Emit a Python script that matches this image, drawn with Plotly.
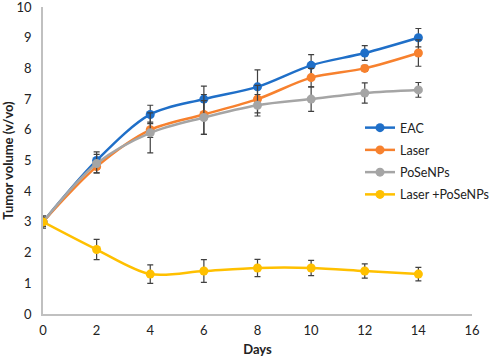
import plotly.graph_objects as go

days = [0, 2, 4, 6, 8, 10, 12, 14]
series_names = ["EAC", "Laser", "PoSeNPs", "Laser +PoSeNPs"]
eac = [3.0, 5.0, 6.5, 7.0, 7.4, 8.1, 8.5, 9.0]
eac_err = [0.15, 0.28, 0.3, 0.42, 0.55, 0.35, 0.24, 0.3]
laser = [3.0, 4.8, 6.0, 6.5, 7.0, 7.7, 8.0, 8.5]
laser_err = [0.15, 0.2, 0.25, 0.65, 0.45, 0.3, 0.1, 0.43]
posenps = [3.0, 4.9, 5.9, 6.4, 6.8, 7.0, 7.2, 7.3]
posenps_err = [0.15, 0.3, 0.65, 0.55, 0.35, 0.4, 0.33, 0.24]
combo = [3.0, 2.1, 1.3, 1.4, 1.5, 1.5, 1.4, 1.3]
combo_err = [0.2, 0.33, 0.3, 0.37, 0.28, 0.25, 0.23, 0.22]
colors = ["#1f6fc8", "#f7812e", "#a5a5a5", "#ffc000"]
x_ticks = [0, 2, 4, 6, 8, 10, 12, 14, 16]
y_ticks = [0, 1, 2, 3, 4, 5, 6, 7, 8, 9, 10]

FONT = "Lato, 'Open Sans', sans-serif"

fig = go.Figure()
for name, ys, errs, col in zip(series_names, [eac, laser, posenps, combo],
                               [eac_err, laser_err, posenps_err, combo_err], colors):
    fig.add_trace(go.Scatter(
        x=days, y=ys, name=name, mode="lines+markers",
        line=dict(color=col, width=2.5, shape="spline", smoothing=0.9),
        marker=dict(color=col, size=9),
        error_y=dict(type="data", array=errs, visible=True, color="#404040",
                     thickness=1.2, width=3),
        legendgroup=name,
    ))

ML, MR, MT, MB = 43, 19, 7, 44
W, H = 491, 358
pw = W - ML - MR
ph = H - MT - MB

fig.update_layout(
    width=W, height=H,
    margin=dict(l=ML, r=MR, t=MT, b=MB, autoexpand=False),
    paper_bgcolor="white", plot_bgcolor="white",
    font=dict(family=FONT, size=13, color="#222222"),
    showlegend=True,
    legend=dict(x=(360 - ML) / pw, y=(H - MB - 113) / ph, xanchor="left", yanchor="top",
                bgcolor="rgba(0,0,0,0)", font=dict(size=12.5, color="#222222"),
                tracegroupgap=3, itemwidth=30),
    xaxis=dict(range=[0, 16], tickvals=x_ticks, showgrid=False, zeroline=False,
               showline=True, linecolor="#c0c0c0", linewidth=1.5, ticks="",
               ticklabelstandoff=4, ticklabeloverflow="allow",
               title=dict(text="<b>Days</b>", font=dict(size=13), standoff=8)),
    yaxis=dict(range=[0, 10], tickvals=y_ticks, showgrid=False, zeroline=False,
               showline=True, linecolor="#c0c0c0", linewidth=1.5, ticks="",
               ticklabelstandoff=7, ticklabeloverflow="allow",
               title=dict(text="<b>Tumor volume (v/vo)</b>", font=dict(size=13), standoff=9)),
)

fig.write_html("out.html", config={"displayModeBar": False},
               post_script="document.body.style.margin='0';document.body.style.overflow='hidden';")
